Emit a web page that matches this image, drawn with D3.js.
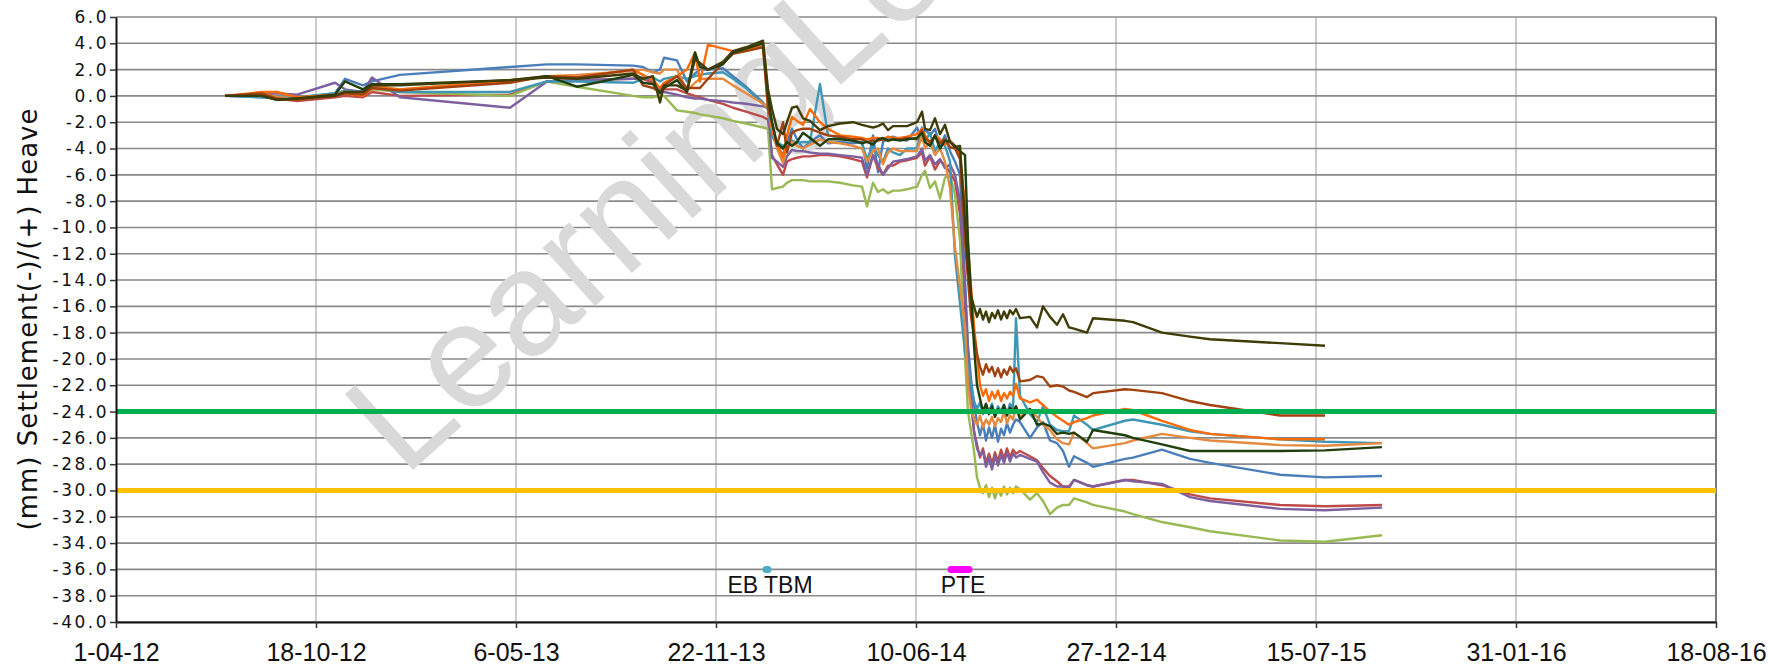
<!DOCTYPE html>
<html>
<head>
<meta charset="utf-8">
<script src="https://cdn.jsdelivr.net/npm/d3@7"></script>
<style>
  html, body { margin: 0; padding: 0; background: #fff; }
  svg { display: block; }
</style>
</head>
<body>
<svg id="chart" width="1768" height="665"></svg>
<script>
// survey dates, shared by every monitoring point
const dates = [
  "2012-07-19","2012-08-25","2012-09-09","2012-09-29","2012-11-06","2012-11-16","2012-12-04","2012-12-13","2013-01-10","2013-04-30","2013-06-06","2013-07-06",
  "2013-08-31","2013-09-10","2013-09-20","2013-09-27","2013-10-01","2013-10-14","2013-10-24","2013-11-01","2013-11-06","2013-11-14","2013-11-29","2013-12-09","2013-12-22","2014-01-08","2014-01-13",
  "2014-01-17","2014-01-22","2014-01-28","2014-02-01","2014-02-06","2014-02-11","2014-02-17","2014-02-24","2014-03-06","2014-03-14","2014-03-26","2014-04-08","2014-04-17","2014-04-22","2014-04-28","2014-05-03","2014-05-08","2014-05-13","2014-05-18","2014-05-25","2014-06-01","2014-06-11","2014-06-16","2014-06-19","2014-06-24","2014-06-29","2014-07-04","2014-07-09","2014-07-14",
  "2014-07-19","2014-07-24","2014-07-29","2014-08-01","2014-08-04",
  "2014-08-07","2014-08-10","2014-08-13","2014-08-16","2014-08-19","2014-08-22","2014-08-25","2014-08-28","2014-08-31","2014-09-03","2014-09-06","2014-09-09","2014-09-12","2014-09-15","2014-09-18","2014-09-22",
  "2014-10-02","2014-10-09","2014-10-15","2014-10-22","2014-10-29","2014-11-04","2014-11-10","2014-11-15","2014-11-28","2014-12-04",
  "2015-01-05","2015-01-13","2015-02-11","2015-03-11","2015-03-31","2015-06-09","2015-07-24","2015-09-19"
];

// settlement (mm) per monitoring point, same order as dates
const blue = [
  0, -0.1, -0.1, -0.2, 0.2, 1.3, 0.8, 1.1, 1.6, 2.2, 2.4, 2.4,
  2.3, 2.2, 1.8, 2.0, 2.9, 2.7, 1.1, 1.7, 2.0, 2.0, 2.1, 1.5, 0.7, -0.5, -0.9,
  -3.0, -3.8, -4.5, -3.5, -2.5, -3.3, -4.0, -3.5, -3.0, -3.6, -3.5, -3.6, -3.5, -5.5, -3.0, -5.8, -3.5, -3.2, -3.1, -3.3, -3.4, -2.4, -3.4, -2.5, -3.0, -2.5, -3.8, -3.0, -4.2,
  -5.0, -6.0, -14.0, -19.0, -21.5,
  -23.5, -24.8, -25.8, -24.9, -26.2, -25.2, -26.0, -25.0, -26.3, -25.3, -25.8, -24.9, -25.6, -25.0, -24.6, -24.8,
  -26.0, -25.2, -24.8, -26.2, -26.4, -27.0, -28.2, -27.4, -27.9, -28.2,
  -27.6, -27.5, -26.9, -27.6, -27.9, -28.8, -29.0, -28.9
];
const red = [
  0, 0.0, -0.2, -0.4, -0.1, 0.0, -0.1, 0.3, 0.0, 0.1, 1.1, 1.2,
  1.3, 1.3, 1.0, 0.4, 0.5, 0.5, 0.2, 0.0, -0.1, -0.3, -0.6, -0.9, -1.2, -1.6, -1.8,
  -4.5, -5.2, -6.0, -5.0, -4.8, -4.7, -4.6, -4.6, -4.5, -4.5, -4.6, -4.8, -5.0, -6.2, -4.5, -5.5, -6.0, -5.3, -5.3, -5.0, -4.9, -4.7, -4.3, -5.3, -4.6, -5.6, -4.9, -5.3, -5.8,
  -6.5, -9.0, -16.0, -21.0, -23.0,
  -25.5, -26.5, -27.5, -26.8, -27.9, -27.2, -28.0, -27.1, -27.8, -26.9, -27.6, -26.8, -27.5, -26.9, -27.2, -27.0,
  -27.4, -27.7, -28.3, -28.9, -29.3, -29.7, -29.7, -29.2, -29.6, -29.7,
  -29.2, -29.2, -29.6, -30.3, -30.6, -31.1, -31.2, -31.1
];
const green = [
  0, 0.0, -0.1, -0.2, 0.1, 0.2, 0.4, 0.5, 0.3, 0.0, 1.1, 0.7,
  0.0, -0.1, -0.1, 0.0, 0.0, -1.1, -1.2, -1.3, -1.4, -1.5, -1.7, -1.9, -2.1, -2.4, -2.5,
  -7.1, -7.0, -6.9, -6.6, -6.4, -6.4, -6.4, -6.5, -6.5, -6.5, -6.6, -6.8, -6.9, -8.4, -6.6, -7.3, -7.1, -7.4, -7.2, -7.2, -7.1, -6.9, -6.0, -5.7, -7.0, -6.5, -7.8, -6.2, -6.0,
  -7.5, -11.0, -20.0, -24.0, -25.5,
  -27.0, -29.0, -29.8, -30.2, -29.6, -30.5, -29.8, -30.6, -29.9, -30.4, -29.7, -30.3, -29.8, -30.2, -29.7, -29.9,
  -30.7, -30.2, -30.8, -31.8, -31.3, -31.1, -31.1, -30.6, -30.9, -31.1,
  -31.6, -31.8, -32.4, -32.8, -33.1, -33.8, -33.9, -33.4
];
const purple = [
  0, 0.1, 0.2, 0.1, 1.0, 0.5, 0.3, 1.4, -0.1, -0.9, 1.1, 1.2,
  1.3, 1.4, 1.2, 0.4, 0.3, 0.1, -0.1, -0.2, -0.2, -0.3, -0.4, -0.5, -0.6, -0.8, -0.9,
  -4.7, -5.0, -5.4, -4.6, -4.1, -4.2, -4.2, -4.3, -4.4, -4.4, -4.5, -4.6, -4.7, -6.0, -4.5, -5.2, -6.0, -5.5, -5.0, -4.9, -4.8, -4.6, -4.0, -4.9, -4.5, -5.2, -4.8, -5.5, -5.2,
  -6.0, -8.0, -14.7, -20.0, -23.0,
  -25.5, -26.8, -27.3, -27.0, -28.2, -27.5, -28.4, -27.4, -28.1, -27.3, -27.9, -27.1, -27.8, -27.2, -27.5, -27.3,
  -27.6, -27.8, -28.6, -29.4, -29.7, -29.7, -29.8, -29.2, -29.6, -29.7,
  -29.2, -29.3, -29.5, -30.5, -30.8, -31.4, -31.5, -31.3
];
const teal = [
  0, -0.1, -0.2, -0.1, 0.2, 0.4, 0.3, 0.7, 0.3, 0.3, 1.1, 1.1,
  1.0, 1.3, 1.4, 1.1, 1.3, 1.5, 1.3, 1.5, 1.6, 1.7, 1.8, 1.3, 0.6, -0.6, -1.0,
  -2.9, -3.5, -3.8, -3.6, -3.4, -3.6, -3.5, -3.5, 0.9, -3.0, -3.2, -3.4, -3.6, -4.8, -3.8, -4.5, -5.0, -4.0, -4.3, -4.5, -4.0, -4.0, -2.4, -3.5, -2.8, -4.2, -3.5, -3.8, -5.0,
  -12.2, -15.8, -19.5, -20.5, -22.0,
  -23.2, -23.8, -23.3, -24.2, -23.5, -24.0, -23.4, -24.3, -23.6, -24.0, -23.5, -24.2, -23.4, -23.8, -16.9, -22.8,
  -24.2, -24.8, -23.6, -25.0, -25.4, -25.5, -25.5, -24.3, -25.0, -25.4,
  -24.7, -24.6, -25.0, -25.5, -25.7, -26.1, -26.3, -26.4
];
const lightOrange = [
  0, 0.2, -0.1, -0.3, 0.1, 0.3, 0.2, 0.8, 0.5, 1.2, 1.5, 1.6,
  1.9, 2.0, 1.8, 1.7, 2.0, 2.0, 0.4, 1.0, 1.3, 1.3, 1.3, 0.8, 0.2, -0.6, -0.9,
  -2.5, -4.0, -5.1, -4.0, -3.5, -3.8, -4.0, -3.7, -3.3, -3.5, -3.6, -3.8, -4.0, -5.0, -4.2, -4.0, -5.2, -4.3, -4.0, -4.2, -4.2, -4.2, -3.0, -4.0, -3.5, -4.5, -4.0, -5.0, -7.0,
  -11.5, -14.5, -17.5, -22.0, -23.8,
  -24.5, -25.0, -24.3, -25.2, -24.6, -25.0, -24.4, -25.1, -24.5, -24.8, -24.0, -24.9, -24.3, -24.6, -23.6, -24.4,
  -23.8, -24.4, -25.0, -25.4, -26.1, -26.4, -26.5, -25.6, -26.4, -26.8,
  -26.4, -26.2, -25.7, -26.0, -26.2, -26.55, -26.6, -26.4
];
const darkOlive = [
  0, 0.0, -0.3, -0.2, 0.0, 0.3, 0.3, 0.8, 0.8, 1.2, 1.4, 1.3,
  1.7, 1.3, 1.5, -0.5, 0.8, 0.8, 0.4, 2.8, 2.5, 2.0, 2.6, 3.4, 3.7, 4.2, 0.5,
  -1.0, -2.5, -2.9, -2.0, -0.9, -0.8, -1.7, -1.9, -2.6, -2.3, -2.1, -2.0, -2.2, -2.3, -2.4, -2.3, -2.1, -2.6, -2.3, -2.3, -2.3, -2.0, -1.2, -2.5, -2.6, -1.7, -2.9, -2.2, -3.5,
  -3.9, -3.8, -9.5, -13.0, -15.2,
  -16.0, -16.8, -16.2, -17.0, -16.4, -17.2, -16.5, -16.9, -16.3, -17.0, -16.4, -16.9, -16.3, -16.6, -16.2, -16.9,
  -16.8, -17.6, -16.0, -16.8, -17.4, -16.6, -17.6, -17.7, -18.0, -16.9,
  -17.1, -17.2, -18.0, -18.3, -18.5, -18.8, -19.0, null
];
const darkGreen = [
  0, 0.0, -0.3, -0.2, 0.1, 1.1, 0.5, 0.9, 0.9, 1.2, 1.5, 0.7,
  1.6, 1.0, 0.9, 0.2, 0.6, 1.2, 0.3, 3.3, 2.2, 2.0, 2.4, 3.3, 3.6, 4.0, 0.0,
  -2.0, -3.6, -4.0, -3.5, -3.8, -3.5, -2.8, -3.2, -3.8, -3.3, -3.3, -3.4, -3.6, -3.5, -3.7, -3.3, -3.2, -3.4, -3.3, -3.4, -3.3, -3.2, -2.8, -3.5, -3.8, -3.0, -4.0, -3.4, -3.5,
  -3.8, -4.2, -4.5, -11.0, -15.0,
  -19.0, -22.0, -23.0, -24.0, -23.4, -24.2, -23.6, -24.4, -23.8, -24.1, -23.5, -24.3, -23.7, -24.0, -23.6, -24.6,
  -23.8, -25.0, -24.9, -25.1, -25.7, -25.6, -25.7, -25.6, -26.3, -25.4,
  -25.8, -26.0, -26.5, -27.0, -27.0, -27.0, -26.95, -26.7
];
const brightOrange = [
  0, 0.3, 0.3, -0.1, 0.1, 0.2, 0.0, 0.6, 0.5, 1.1, 1.5, 1.4,
  2.0, 1.6, 1.2, 0.6, 1.0, 1.5, 2.0, 3.3, 1.1, 3.9, 3.6, 3.4, 3.5, 3.8, -0.5,
  -2.5, -3.6, -4.7, -3.0, -1.6, -1.9, -2.2, -1.0, -2.0, -2.5, -3.0, -3.1, -3.2, -3.3, -3.2, -3.2, -3.3, -3.1, -3.2, -3.2, -3.1, -2.9, -2.5, -3.0, -3.6, -3.0, -3.3, -3.7, -3.4,
  -3.8, -4.5, -8.4, -11.5, -14.5,
  -17.5, -19.7, -22.0, -22.8, -22.3, -23.2, -22.5, -23.0, -22.4, -23.2, -22.6, -23.0, -22.5, -22.8, -21.9, -23.0,
  -23.3, -23.1, -23.5, -24.0, -24.4, -24.7, -25.0, -24.8, -24.5, -24.3,
  -23.8, -23.9, -24.7, -25.4, -25.7, -26.1, -26.1, null
];
const rust = [
  0, 0.2, -0.2, -0.3, 0.0, 0.2, 0.1, 0.6, 0.4, 1.0, 1.5, 1.4,
  2.0, 0.8, 0.6, 0.3, 0.8, 1.5, 0.6, 0.6, 0.6, 1.3, 2.5, 3.2, 3.4, 3.7, -1.0,
  -2.0, -3.8, -2.0, -4.3, -2.8, -2.6, -2.5, -2.5, -2.8, -3.0, -3.1, -3.3, -3.3, -3.5, -3.4, -3.4, -3.3, -3.4, -3.3, -3.3, -3.2, -3.3, -2.6, -3.2, -3.5, -3.1, -3.6, -3.3, -3.9,
  -4.0, -4.8, -11.0, -14.0, -16.8,
  -18.2, -19.6, -20.6, -21.2, -20.4, -21.0, -20.6, -21.3, -20.7, -21.4, -20.8, -21.2, -20.6, -21.0, -20.7, -21.7,
  -21.6, -21.3, -21.4, -22.1, -22.0, -22.1, -22.4, -22.5, -22.9, -22.6,
  -22.3, -22.35, -22.6, -23.2, -23.5, -24.3, -24.3, null
];

const xTickDates = ["2012-04-01","2012-10-18","2013-05-06","2013-11-22","2014-06-10","2014-12-27","2015-07-15","2016-01-31","2016-08-18"];
const yTicks = d3.range(-40, 6.1, 2);
const alertLevel = -24;
const actionLevel = -30;
const events = [
  {label: "EB TBM", from: "2014-01-11", to: "2014-01-13", level: -36, color: "#4BACC6"},
  {label: "PTE", from: "2014-07-15", to: "2014-08-02", level: -36, color: "#FF00FF"}
];

const series = [
  {values: blue, color: "#4A7EBB"},
  {values: red, color: "#BE4B48"},
  {values: green, color: "#98B954"},
  {values: purple, color: "#7D60A0"},
  {values: teal, color: "#3F97B5"},
  {values: lightOrange, color: "#E48B3F"},
  {values: brightOrange, color: "#FA6C0A"},
  {values: rust, color: "#A2420F"},
  {values: darkGreen, color: "#213F0D"},
  {values: darkOlive, color: "#3F3C08"}
];

const W = 1768, H = 665;
const plotL = 116, plotR = 1716, plotT = 17, plotB = 622;
const parse = d3.utcParse("%Y-%m-%d");

const svg = d3.select("#chart");
svg.append("rect").attr("width", W).attr("height", H).attr("fill", "#fff");

const x = d3.scaleUtc()
  .domain([parse(xTickDates[0]), parse(xTickDates[xTickDates.length - 1])])
  .range([plotL, plotR]);
const y = d3.scaleLinear().domain([-40, 6]).range([plotB, plotT]);

// gridlines
svg.append("g").selectAll("line").data(xTickDates.slice(1, -1)).join("line")
  .attr("x1", d => x(parse(d))).attr("x2", d => x(parse(d)))
  .attr("y1", plotT).attr("y2", plotB)
  .attr("stroke", "#9a9a9a").attr("stroke-width", 1);
svg.append("g").selectAll("line").data(yTicks).join("line")
  .attr("x1", plotL).attr("x2", plotR)
  .attr("y1", d => y(d)).attr("y2", d => y(d))
  .attr("stroke", "#8a8a8a").attr("stroke-width", 1.6);
svg.append("line")
  .attr("x1", plotR).attr("x2", plotR).attr("y1", plotT).attr("y2", plotB)
  .attr("stroke", "#7a7a7a").attr("stroke-width", 2);

// watermark (runs off the top edge, as in the original)
svg.append("text")
  .attr("transform", "translate(404,478) rotate(-42)")
  .attr("font-family", "'Liberation Sans', Arial, sans-serif")
  .attr("font-size", 148)
  .attr("fill", "#d9d9d9")
  .text("LearningLessons");

// series
const line = d3.line()
  .defined(d => d.v != null)
  .x(d => x(d.date))
  .y(d => y(d.v));

svg.append("g").selectAll("path").data(series).join("path")
  .attr("d", s => line(dates.map((dt, i) => ({date: parse(dt), v: s.values[i]}))))
  .attr("fill", "none")
  .attr("stroke", s => s.color)
  .attr("stroke-width", 2.4)
  .attr("stroke-linejoin", "round");

// limit lines
[[alertLevel, "#00B050"], [actionLevel, "#FFC000"]].forEach(([lv, c]) => {
  svg.append("line")
    .attr("x1", plotL).attr("x2", plotR)
    .attr("y1", y(lv)).attr("y2", y(lv))
    .attr("stroke", c).attr("stroke-width", 5);
});

// events
const ev = svg.append("g");
ev.selectAll("line").data(events).join("line")
  .attr("x1", d => x(parse(d.from))).attr("x2", d => x(parse(d.to)))
  .attr("y1", d => y(d.level)).attr("y2", d => y(d.level))
  .attr("stroke", d => d.color).attr("stroke-width", 7).attr("stroke-linecap", "round");
ev.selectAll("text").data(events).join("text")
  .attr("x", d => (x(parse(d.from)) + x(parse(d.to))) / 2 + 3)
  .attr("y", d => y(d.level) + 24)
  .attr("text-anchor", "middle")
  .attr("font-family", "'Liberation Sans', Arial, sans-serif")
  .attr("font-size", 23)
  .attr("fill", "#111")
  .text(d => d.label);

// axes
const yAxis = svg.append("g")
  .attr("transform", `translate(${plotL},0)`)
  .call(d3.axisLeft(y).tickValues(yTicks).tickFormat(v => v.toFixed(1)).tickSize(6).tickSizeOuter(0).tickPadding(1));
yAxis.select(".domain").attr("stroke", "#111").attr("stroke-width", 2);
yAxis.selectAll(".tick line").attr("stroke", "#333").attr("stroke-width", 1.5);
yAxis.selectAll("text")
  .attr("font-family", "'DejaVu Sans', Verdana, sans-serif")
  .attr("font-size", 17)
  .attr("letter-spacing", "2.5px")
  .attr("fill", "#111");

const xAxis = svg.append("g")
  .attr("transform", `translate(0,${plotB})`)
  .call(d3.axisBottom(x).tickValues(xTickDates.map(parse)).tickFormat(d3.utcFormat("%-d-%m-%y")).tickSize(6).tickSizeOuter(0).tickPadding(15));
xAxis.select(".domain").attr("stroke", "#111").attr("stroke-width", 2);
xAxis.selectAll(".tick line").attr("stroke", "#333").attr("stroke-width", 1.5);
xAxis.selectAll("text")
  .attr("font-family", "'Liberation Sans Narrow', 'Liberation Sans', Arial, sans-serif")
  .attr("font-size", 25)
  .attr("fill", "#111");

// y title
svg.append("text")
  .attr("transform", "translate(28,319) rotate(-90)")
  .attr("text-anchor", "middle")
  .attr("dominant-baseline", "central")
  .attr("font-family", "'DejaVu Sans', Verdana, sans-serif")
  .attr("font-size", 26)
  .attr("letter-spacing", "1px")
  .attr("fill", "#111")
  .text("(mm) Settlement(-)/(+) Heave");
</script>
</body>
</html>
